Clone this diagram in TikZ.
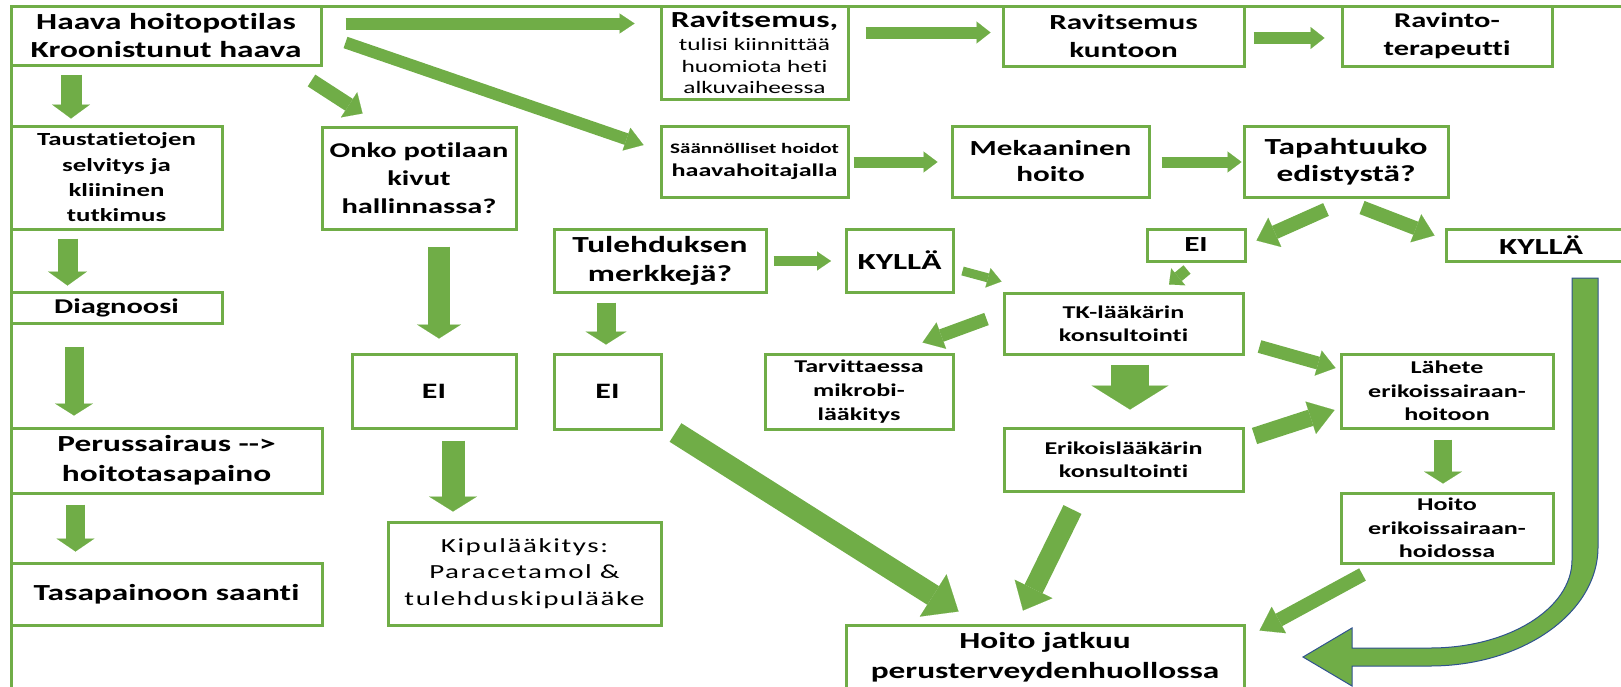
\documentclass[tikz,border=0pt]{standalone}
\usepackage{fontspec}
\setmainfont{Carlito}[FakeStretch=1.45,Ligatures=NoCommon]
\newfontfamily\kipufont{Carlito}[FakeStretch=1.45,LetterSpace=8,Ligatures=NoCommon]
\usepackage{tikz}
\usetikzlibrary{arrows.meta}
\definecolor{hoitogreen}{HTML}{70AD47}
\definecolor{uturnblue}{HTML}{2F528F}
\newcommand\ravline[1]{{\mdseries\fontsize{17.5}{21.5}\selectfont #1}}

\begin{document}
\begin{tikzpicture}[x=1pt,y=-1pt,
  box/.style={draw=hoitogreen,line width=3pt,inner sep=0pt,align=center},
  bigtxt/.style={font=\bfseries\fontsize{23}{28}\selectfont},
  midtxt/.style={font=\bfseries\fontsize{21.5}{28}\selectfont},
  smalltxt/.style={font=\bfseries\fontsize{18}{23.3}\selectfont},
  barrow/.style n args={3}{draw=hoitogreen,line width=#1,
    -{Triangle[width=#2,length=#3,line width=0.1pt]}}]
\useasboundingbox (0,0) rectangle (1621,686);
\clip (0,0) rectangle (1621,686);

\draw[hoitogreen,line width=3pt] (11,700) -- (11,6) -- (1640,6);

\node[box,bigtxt,minimum width=310,minimum height=59] (haava) at (166,35.5) {Haava hoitopotilas\\Kroonistunut haava};
\node[box,font=\bfseries\fontsize{23}{21.5}\selectfont,minimum width=187,minimum height=93] (ravits) at (754.5,52.5) {Ravitsemus,\\[2pt]\ravline{tulisi kiinnittää}\\\ravline{huomiota heti}\\\ravline{alkuvaiheessa}};
\node[box,midtxt,minimum width=241,minimum height=60] (kuntoon) at (1123.5,36) {Ravitsemus\\kuntoon};
\node[box,font=\bfseries\fontsize{21}{28}\selectfont,minimum width=210,minimum height=60] (ravinto) at (1447,36) {Ravinto-\\terapeutti};
\node[box,font=\bfseries\fontsize{18.5}{25.3}\selectfont,minimum width=211,minimum height=103] (taust) at (116.5,177.5) {Taustatietojen\\selvitys ja\\kliininen\\tutkimus};
\node[box,font=\bfseries\fontsize{21}{28}\selectfont,minimum width=194,minimum height=102] (onko) at (419,178) {Onko potilaan\\kivut\\hallinnassa?};
\node[box,font=\bfseries\fontsize{18}{23}\selectfont,minimum width=187,minimum height=71] (saann) at (754.5,161.5) {{\fontsize{14.5}{18}\selectfont Säännölliset hoidot}\\haavahoitajalla};
\node[box,font=\bfseries\fontsize{21.5}{26}\selectfont,minimum width=197,minimum height=71] (mekaan) at (1050.5,161.5) {Mekaaninen\\hoito};
\node[box,font=\bfseries\fontsize{23}{27}\selectfont,minimum width=204,minimum height=71] (tapaht) at (1346,161.5) {Tapahtuuko\\edistystä?};
\node[box,midtxt,minimum width=98,minimum height=32] (eiR) at (1196,245) {EI};
\node[box,bigtxt,minimum width=190,minimum height=32] (kyllaR) at (1541,245) {KYLLÄ};
\node[box,font=\bfseries\fontsize{21}{26}\selectfont,minimum width=211,minimum height=31] (diag) at (116.5,307.5) {Diagnoosi};
\node[box,font=\bfseries\fontsize{23}{29}\selectfont,minimum width=212,minimum height=63] (tuleh) at (660,260.5) {Tulehduksen\\merkkejä?};
\node[box,bigtxt,minimum width=107,minimum height=63] (kyllaM) at (899.5,260.5) {KYLLÄ};
\node[box,font=\bfseries\fontsize{22}{26}\selectfont,minimum width=164,minimum height=74] (eiL) at (434,391) {EI};
\node[box,font=\bfseries\fontsize{22}{26}\selectfont,minimum width=107,minimum height=75] (eiM) at (607.5,391.5) {EI};
\node[box,font=\bfseries\fontsize{18}{23}\selectfont,minimum width=239,minimum height=61] (tk) at (1123.5,323.5) {TK-lääkärin\\konsultointi};
\node[box,font=\bfseries\fontsize{18}{24}\selectfont,minimum width=188,minimum height=75] (tarv) at (859,391.5) {Tarvittaessa\\mikrobi-\\lääkitys};
\node[box,font=\bfseries\fontsize{18}{23}\selectfont,minimum width=239,minimum height=63] (erik) at (1123.5,459.5) {Erikoislääkärin\\konsultointi};
\node[box,smalltxt,minimum width=212,minimum height=74] (lahete) at (1447,391) {Lähete\\erikoissairaan-\\hoitoon};
\node[box,font=\bfseries\fontsize{23}{30}\selectfont,minimum width=311,minimum height=65] (perus) at (166.5,460.5) {Perussairaus -\kern0pt-\kern0pt>\\hoitotasapaino};
\node[box,smalltxt,minimum width=212,minimum height=70] (hoitoE) at (1447,528) {Hoito\\erikoissairaan-\\hoidossa};
\node[box,bigtxt,minimum width=311,minimum height=62] (tasap) at (166.5,594) {Tasapainoon saanti};
\node[box,font=\kipufont\fontsize{20}{26.7}\selectfont,minimum width=273,minimum height=103] (kipu) at (524.5,573.5) {Kipulääkitys:\\Paracetamol \&\\tulehduskipulääke};
\node[box,font=\bfseries\fontsize{23}{30}\selectfont,minimum width=398,minimum height=65] (jatkuu) at (1045,657.5) {Hoito jatkuu\\perusterveydenhuollossa};

\draw[barrow={12pt}{20pt}{15pt}] ([shift={(23,19)}]haava.north east) -- ([shift={(-25,19)}]ravits.north west);
\draw[barrow={12pt}{24pt}{18pt}] ([shift={(23,7)}]haava.east) -- ([shift={(-16,-16.5)}]saann.west);
\draw[barrow={14pt}{30pt}{16pt}] ([shift={(-11,14)}]haava.south east) -- ([shift={(42,-12)}]onko.north west);
\draw[barrow={12pt}{22pt}{14pt}] ([shift={(16,28)}]ravits.north east) -- ([shift={(-11,28)}]kuntoon.north west);
\draw[barrow={12pt}{22pt}{14pt}] ([shift={(8,2)}]kuntoon.east) -- ([shift={(-16,2)}]ravinto.west);
\draw[barrow={11pt}{21pt}{14pt}] ([shift={(4,0.5)}]saann.east) -- ([shift={(-13,0.5)}]mekaan.west);
\draw[barrow={11pt}{21pt}{14pt}] ([shift={(11,0.5)}]mekaan.east) -- ([shift={(-1,0.5)}]tapaht.west);
\draw[barrow={21pt}{38pt}{14pt}] ([shift={(61.5,8)}]haava.south west) -- ([shift={(61.5,-6)}]taust.north west);
\draw[barrow={20pt}{39pt}{14pt}] ([shift={(58,8)}]taust.south west) -- ([shift={(58,-5)}]diag.north west);
\draw[barrow={19pt}{38pt}{12pt}] ([shift={(64.5,22)}]diag.south west) -- ([shift={(64.5,-11)}]perus.north west);
\draw[barrow={19pt}{38pt}{13pt}] ([shift={(66,10)}]perus.south west) -- ([shift={(66,-10)}]tasap.north west);
\draw[barrow={22pt}{44pt}{14pt}] ([shift={(20,16)}]onko.south) -- ([shift={(5,-14)}]eiL.north);
\draw[barrow={23pt}{48pt}{15pt}] ([shift={(19,11)}]eiL.south) -- ([shift={(-71.5,-9)}]kipu.north);
\draw[barrow={10pt}{19pt}{14pt}] ([shift={(6,0.5)}]tuleh.east) -- ([shift={(-13.5,0.5)}]kyllaM.west);
\draw[barrow={19pt}{41pt}{13pt}] ([shift={(-54,9)}]tuleh.south) -- ([shift={(-1.5,-8)}]eiM.north);
\draw[barrow={9pt}{20pt}{14pt}] ([shift={(8,10.5)}]kyllaM.east) -- ([shift={(-1,-10)}]tk.north west);
\draw[barrow={11pt}{22pt}{12pt}] ([shift={(-9,7)}]eiR.south) -- ([shift={(45.5,-7)}]tk.north);
\draw[barrow={13pt}{28pt}{20pt}] ([shift={(-16,-4.5)}]tk.west) -- ([shift={(-32,-10)}]tarv.north east);
\draw[barrow={38pt}{77pt}{24pt}] ([shift={(6.5,9)}]tk.south) -- ([shift={(6.5,-17)}]erik.north);
\draw[barrow={13pt}{26pt}{18pt}] ([shift={(15,23)}]tk.east) -- ([shift={(-4,-23)}]lahete.west);
\draw[barrow={17pt}{34pt}{25pt}] ([shift={(10,-23.5)}]erik.east) -- ([shift={(-5,19)}]lahete.west);
\draw[barrow={18.5pt}{38pt}{12pt}] ([shift={(-4,10)}]lahete.south) -- ([shift={(-4,-8)}]hoitoE.north);
\draw[barrow={14pt}{30pt}{22pt}] ([shift={(23,10)}]hoitoE.south west) -- ([shift={(14,7)}]jatkuu.north east);
\draw[barrow={22pt}{50pt}{30pt}] ([shift={(13,2)}]eiM.south east) -- ([shift={(114,-12)}]jatkuu.north west);
\draw[barrow={20pt}{42pt}{24pt}] ([shift={(-51,17)}]erik.south) -- ([shift={(-22,-13)}]jatkuu.north);
\draw[barrow={14pt}{32pt}{20pt}] ([shift={(-20,11)}]tapaht.south) -- ([shift={(10,13)}]eiR.north east);
\draw[barrow={14pt}{30pt}{20pt}] ([shift={(16,9)}]tapaht.south) -- ([shift={(-10,8)}]kyllaR.north west);

\filldraw[fill=hoitogreen,draw=uturnblue,line width=1pt] (1572,278) -- (1598,278) -- (1598,547)
  arc[start angle=0,end angle=90,x radius=168,y radius=119] -- (1352,666) -- (1352,686) -- (1303,657)
  -- (1352,628) -- (1352,648) -- (1430,648) arc[start angle=90,end angle=0,x radius=142,y radius=88] -- cycle;
\end{tikzpicture}
\end{document}
